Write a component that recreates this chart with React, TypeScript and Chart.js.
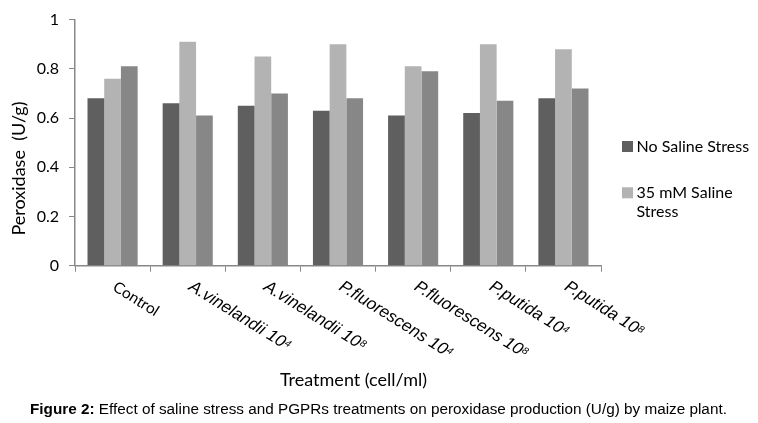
import React, { useEffect, useRef } from "react";
import { Chart, registerables } from "chart.js";

Chart.register(...registerables);

const categoryNames = ["Control", "A.vinelandii", "A.vinelandii", "P.fluorescens", "P.fluorescens", "P.putida", "P.putida"];
const categoryExponents = ["", "4", "8", "4", "8", "4", "8"];
const noSalineStress = [0.68, 0.66, 0.65, 0.63, 0.61, 0.62, 0.68];
const saline35Stress = [0.76, 0.91, 0.85, 0.9, 0.81, 0.9, 0.88];
const saline70Stress = [0.81, 0.61, 0.7, 0.68, 0.79, 0.67, 0.72];
const yTickValues = [0, 0.2, 0.4, 0.6, 0.8, 1];
const yTickLabels = ["0", "0.2", "0.4", "0.6", "0.8", "1"];

const labels = categoryNames.map((n, i) => (categoryExponents[i] ? `${n} 10^${categoryExponents[i]}` : n));

const COLORS = ["#5f5f5f", "#b3b3b3", "#878787"];

const overlay = {
  id: "overlay",
  afterDraw(chart: any) {
    const ctx = chart.ctx as CanvasRenderingContext2D;
    const xs = chart.scales.x;
    ctx.save();
    ctx.fillStyle = "#000";
    // x tick labels, rotated clockwise
    categoryNames.forEach((name, i) => {
      const x = xs.getPixelForValue(i);
      ctx.save();
      ctx.textAlign = "left";
      ctx.textBaseline = "top";
      if (!categoryExponents[i]) {
        ctx.translate(x + 6, 279);
        ctx.rotate((32 * Math.PI) / 180);
        ctx.font = "15.5px Lato";
        ctx.fillText(name, 0, 0);
      } else {
        ctx.translate(x + 7, 278);
        ctx.rotate((32 * Math.PI) / 180);
        ctx.font = "italic 17px 'Liberation Sans'";
        const main = `${name} 10`;
        ctx.fillText(main, 0, 0);
        const w = ctx.measureText(main).width;
        ctx.font = "italic 10px 'Liberation Sans'";
        ctx.fillText(categoryExponents[i], w + 0.5, 1.5);
      }
      ctx.restore();
    });
    // y title
    ctx.save();
    ctx.translate(19, 168.5);
    ctx.rotate(-Math.PI / 2);
    ctx.font = "18px Lato";
    ctx.textAlign = "center";
    ctx.textBaseline = "middle";
    ctx.fillText("Peroxidase  (U/g)", 0, 0);
    ctx.restore();
    // x title
    ctx.font = "18px Lato";
    ctx.textAlign = "center";
    ctx.textBaseline = "middle";
    ctx.fillText("Treatment (cell/ml)", 353.5, 380);
    // legend
    const legendItems = [
      { color: COLORS[0], lines: ["No Saline Stress"], y: 141 },
      { color: COLORS[1], lines: ["35 mM Saline", "Stress"], y: 187.3 },
    ];
    ctx.font = "16px Lato";
    ctx.textAlign = "left";
    ctx.textBaseline = "alphabetic";
    legendItems.forEach((it) => {
      ctx.fillStyle = it.color;
      ctx.fillRect(622, it.y, 11, 11);
      ctx.fillStyle = "#000";
      it.lines.forEach((ln, k) => ctx.fillText(ln, 636.5, it.y + 11 + k * 18.4));
    });
    // caption
    ctx.font = "bold 15.3px 'Liberation Sans'";
    const bold = "Figure 2:";
    ctx.fillText(bold, 30, 414);
    const bw = ctx.measureText(bold).width;
    ctx.font = "15.3px 'Liberation Sans'";
    ctx.fillText(" Effect of saline stress and PGPRs treatments on peroxidase production (U/g) by maize plant.", 30 + bw, 414);
    ctx.restore();
  },
};

export default function App() {
  const ref = useRef<HTMLCanvasElement | null>(null);
  useEffect(() => {
    if (!ref.current) return;
    const chart = new Chart(ref.current, {
      type: "bar",
      data: {
        labels,
        datasets: [
          { label: "No Saline Stress", data: noSalineStress, backgroundColor: COLORS[0] },
          { label: "35 mM Saline Stress", data: saline35Stress, backgroundColor: COLORS[1] },
          { label: "70 mM Saline Stress", data: saline70Stress, backgroundColor: COLORS[2] },
        ],
      },
      options: {
        animation: false,
        responsive: true,
        maintainAspectRatio: false,
        layout: { padding: { left: 0, right: 157, top: 12, bottom: 0 } },
        datasets: { bar: { categoryPercentage: 0.667, barPercentage: 1.0 } },
        plugins: { legend: { display: false }, tooltip: { enabled: false }, title: { display: false } },
        scales: {
          x: {
            grid: { display: true, drawOnChartArea: false, drawTicks: true, tickLength: 6, color: "#888", offset: true },
            border: { display: true, color: "#888", width: 1.5 },
            ticks: { display: false },
            afterFit: (s: any) => {
              s.height = 157.3;
            },
          },
          y: {
            min: 0,
            max: 1,
            afterBuildTicks: (s: any) => {
              s.ticks = yTickValues.map((v) => ({ value: v }));
            },
            grid: { display: true, drawOnChartArea: false, drawTicks: true, tickLength: 6, color: "#888" },
            border: { display: true, color: "#888", width: 1.5 },
            ticks: {
              font: { family: "Lato", size: 16 },
              color: "#000",
              padding: 10,
              callback: (_v: any, i: number) => yTickLabels[i],
            },
            afterFit: (s: any) => {
              s.width = 75;
            },
          },
        },
      },
      plugins: [overlay],
    } as any);
    return () => chart.destroy();
  }, []);
  return (
    <div style={{ position: "fixed", left: 0, top: 0, width: 758, height: 423, background: "#fff" }}>
      <canvas ref={ref} />
    </div>
  );
}
